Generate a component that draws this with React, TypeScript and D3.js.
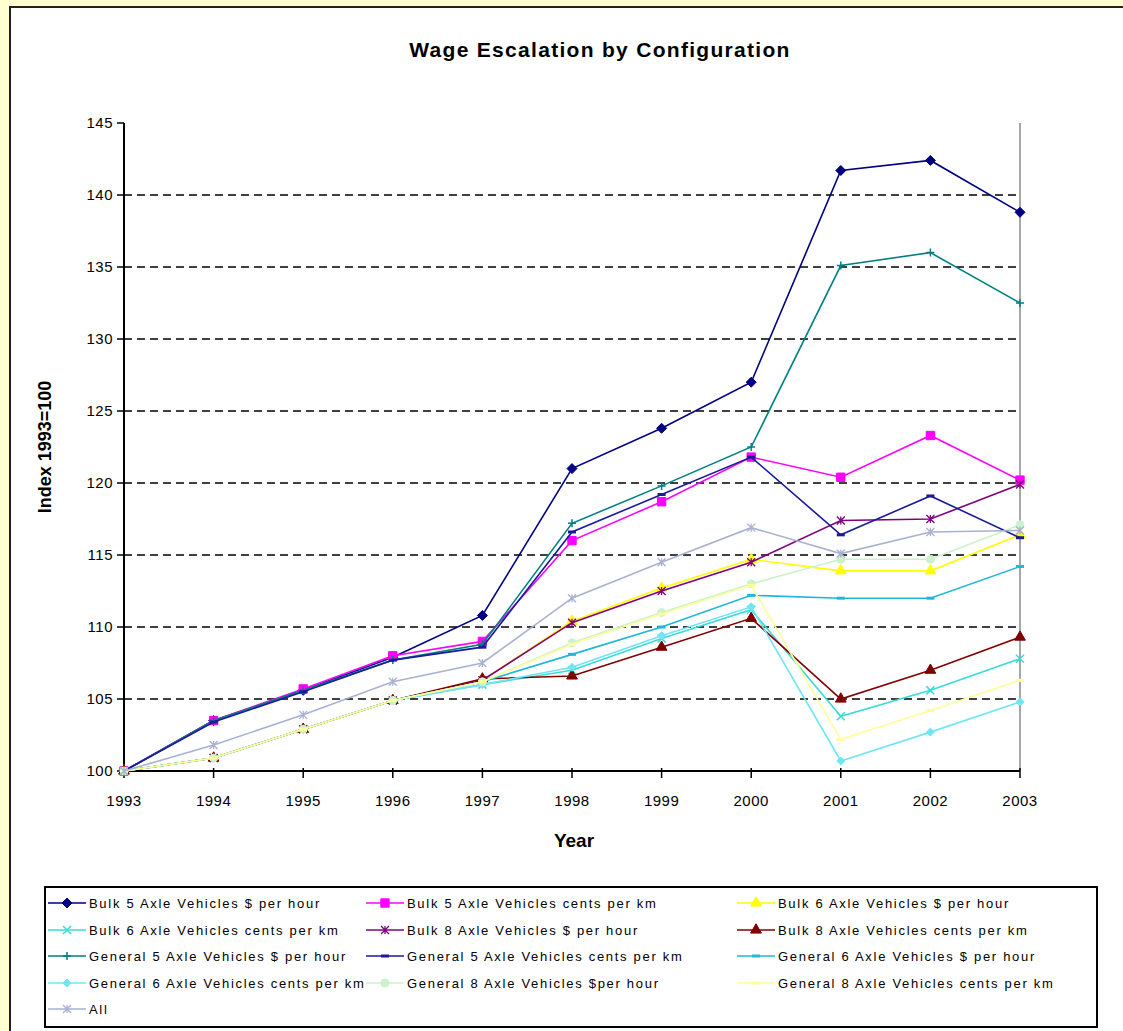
import React from "react";
import * as d3 from "d3";

const years = [1993, 1994, 1995, 1996, 1997, 1998, 1999, 2000, 2001, 2002, 2003];
const yTicks = [100, 105, 110, 115, 120, 125, 130, 135, 140, 145];

const bulk5Hour = [100, 103.5, 105.6, 107.9, 110.8, 121.0, 123.8, 127.0, 141.7, 142.4, 138.8];
const bulk5Km = [100, 103.5, 105.7, 108.0, 109.0, 116.0, 118.7, 121.8, 120.4, 123.3, 120.2];
const bulk6Hour = [100, 100.9, 102.9, 104.9, 106.3, 110.4, 112.7, 114.7, 113.9, 113.9, 116.4];
const bulk6Km = [100, 100.9, 102.9, 104.9, 106.0, 107.0, 109.2, 111.2, 103.8, 105.6, 107.8];
const bulk8Hour = [100, 100.9, 102.9, 104.9, 106.3, 110.3, 112.5, 114.5, 117.4, 117.5, 119.9];
const bulk8Km = [100, 100.9, 102.9, 104.9, 106.4, 106.6, 108.6, 110.6, 105.0, 107.0, 109.3];
const gen5Hour = [100, 103.5, 105.6, 107.7, 108.8, 117.2, 119.8, 122.5, 135.1, 136.0, 132.5];
const gen5Km = [100, 103.4, 105.5, 107.7, 108.6, 116.6, 119.2, 121.8, 116.4, 119.1, 116.2];
const gen6Hour = [100, 100.9, 102.9, 104.9, 106.2, 108.1, 110.0, 112.2, 112.0, 112.0, 114.2];
const gen6Km = [100, 100.9, 102.9, 104.9, 106.0, 107.2, 109.4, 111.4, 100.7, 102.7, 104.8];
const gen8Hour = [100, 100.9, 102.9, 104.9, 106.2, 108.9, 111.0, 113.0, 114.7, 114.7, 117.1];
const gen8Km = [100, 100.9, 102.9, 104.9, 106.2, 108.8, 110.9, 112.9, 102.2, 104.2, 106.3];
const allIdx = [100, 101.8, 103.9, 106.2, 107.5, 112.0, 114.5, 116.9, 115.1, 116.6, 116.7];

const seriesNames = [
  "Bulk 5 Axle Vehicles $ per hour",
  "Bulk 5 Axle Vehicles cents per km",
  "Bulk 6 Axle Vehicles $ per hour",
  "Bulk 6 Axle Vehicles cents per km",
  "Bulk 8 Axle Vehicles $ per hour",
  "Bulk 8 Axle Vehicles cents per km",
  "General 5 Axle Vehicles $ per hour",
  "General 5 Axle Vehicles cents per km",
  "General 6 Axle Vehicles $ per hour",
  "General 6 Axle Vehicles cents per km",
  "General 8 Axle Vehicles $per hour",
  "General 8 Axle Vehicles cents per km",
  "All",
];
const seriesValues = [bulk5Hour, bulk5Km, bulk6Hour, bulk6Km, bulk8Hour, bulk8Km, gen5Hour, gen5Km, gen6Hour, gen6Km, gen8Hour, gen8Km, allIdx];
const seriesColors = ["#000080", "#FF00FF", "#FFFF00", "#3ADCD8", "#800080", "#800000", "#008080", "#1A1A9A", "#1EB8DA", "#6FE6F4", "#CCF2CC", "#FFFF99", "#A9B1D2"];
const seriesMarkers = ["diamond", "square", "triangle", "x", "star", "triangle", "plus", "dash", "dash", "diamondSmall", "circle", "dash", "star"];

const W = 1123, H = 1031;
const x = d3.scaleLinear().domain([1993, 2003]).range([124, 1020]);
const y = d3.scaleLinear().domain([100, 145]).range([771, 123]);

function Marker({ kind, cx, cy, color }: { kind: string; cx: number; cy: number; color: string }) {
  const t = `translate(${cx},${cy})`;
  if (kind === "diamond") return <path transform={t} d="M0,-5L5,0L0,5L-5,0Z" fill={color} stroke={color} />;
  if (kind === "diamondSmall") return <path transform={t} d="M0,-4L4,0L0,4L-4,0Z" fill={color} stroke={color} />;
  if (kind === "square") return <path transform={t} d={d3.symbol(d3.symbolSquare, 70)()!} fill={color} stroke={color} />;
  if (kind === "triangle") return <path transform={t} d={d3.symbol(d3.symbolTriangle, 50)()!} fill={color} stroke={color} />;
  if (kind === "circle") return <path transform={t} d={d3.symbol(d3.symbolCircle, 50)()!} fill={color} stroke={color} />;
  if (kind === "x") return <path transform={t} d="M-4,-4L4,4M-4,4L4,-4" stroke={color} strokeWidth={1.5} fill="none" />;
  if (kind === "star") return <path transform={t} d="M-4,-4L4,4M-4,4L4,-4M0,-4L0,4" stroke={color} strokeWidth={1.3} fill="none" />;
  if (kind === "plus") return <path transform={t} d="M-4,0L4,0M0,-4L0,4" stroke={color} strokeWidth={1.5} fill="none" />;
  if (kind === "dash") return <path transform={t} d="M-4,0L4,0" stroke={color} strokeWidth={3} fill="none" />;
  return null;
}

export default function App() {
  const line = d3.line<number>().x((_, i) => x(years[i])).y((v) => y(v));
  const legendCols = [48, 366, 737];
  const legendRows = [903, 930, 956, 983, 1009];
  return (
    <svg width={W} height={H} style={{ position: "absolute", left: 0, top: 0, display: "block" }} fontFamily="'Liberation Sans', Arial, sans-serif">
      <rect x={0} y={0} width={W} height={H} fill="#FFFFD2" />
      <rect x={10} y={7} width={W + 20} height={H + 20} fill="#FFFFFF" stroke="#222" strokeWidth={2} />
      <text x={600} y={57} textAnchor="middle" fontSize={21} fontWeight="bold" letterSpacing={1.3}>Wage Escalation by Configuration</text>

      {yTicks.filter((v) => v > 100 && v < 145).map((v) => (
        <line key={v} x1={124} x2={1020} y1={y(v)} y2={y(v)} stroke="#000" strokeWidth={1.5} strokeDasharray="8,5" />
      ))}
      <line x1={1020} x2={1020} y1={y(145)} y2={y(100)} stroke="#888" strokeWidth={1.5} />
      <line x1={124} x2={124} y1={y(145)} y2={y(100)} stroke="#000" strokeWidth={2} />
      <line x1={124} x2={1020} y1={y(100)} y2={y(100)} stroke="#000" strokeWidth={2} />
      {yTicks.map((v) => (
        <g key={v}>
          <line x1={117} x2={124} y1={y(v)} y2={y(v)} stroke="#000" strokeWidth={1.5} />
          <text x={113} y={y(v) + 5} textAnchor="end" fontSize={15} letterSpacing={0.5}>{v}</text>
        </g>
      ))}
      {years.map((yr) => (
        <g key={yr}>
          <line x1={x(yr)} x2={x(yr)} y1={y(100) - 3} y2={y(100) + 7} stroke="#000" strokeWidth={1.5} />
          <text x={x(yr)} y={806} textAnchor="middle" fontSize={15} letterSpacing={0.5}>{yr}</text>
        </g>
      ))}
      <text x={574} y={847} textAnchor="middle" fontSize={19} fontWeight="bold">Year</text>
      <text transform={`translate(51,447) rotate(-90)`} textAnchor="middle" fontSize={18} fontWeight="bold">Index 1993=100</text>

      {seriesValues.map((vals, si) => (
        <g key={si}>
          <path d={line(vals)!} fill="none" stroke={seriesColors[si]} strokeWidth={1.6} />
          {vals.map((v, i) => (
            <Marker key={i} kind={seriesMarkers[si]} cx={x(years[i])} cy={y(v)} color={seriesColors[si]} />
          ))}
        </g>
      ))}

      <rect x={45} y={887} width={1052} height={140} fill="#fff" stroke="#000" strokeWidth={2} />
      {seriesNames.map((name, i) => {
        const cx = legendCols[i % 3];
        const cy = legendRows[Math.floor(i / 3)];
        return (
          <g key={name}>
            <line x1={cx} x2={cx + 38} y1={cy} y2={cy} stroke={seriesColors[i]} strokeWidth={1.6} />
            <Marker kind={seriesMarkers[i]} cx={cx + 19} cy={cy} color={seriesColors[i]} />
            <text x={cx + 41} y={cy + 5} fontSize={13} letterSpacing={1.7}>{name}</text>
          </g>
        );
      })}
    </svg>
  );
}
